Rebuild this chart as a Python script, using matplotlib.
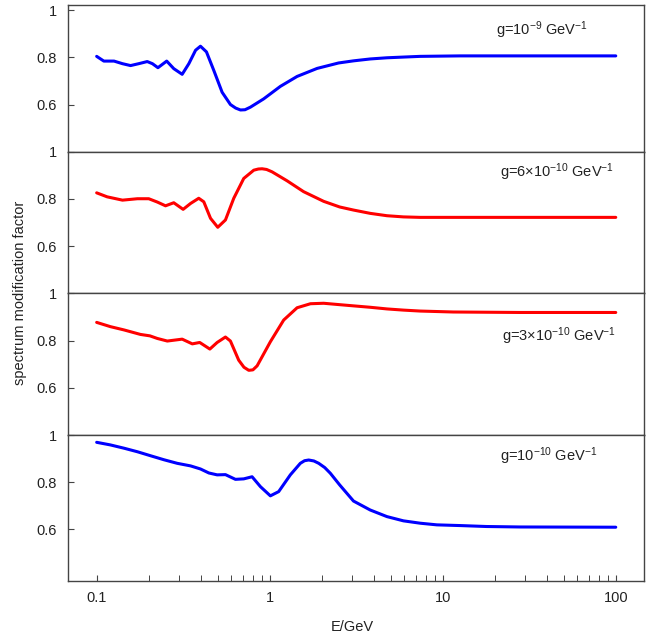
import matplotlib
matplotlib.use("Agg")
import matplotlib.pyplot as plt
from matplotlib.ticker import FixedLocator, NullFormatter

plt.rcParams['font.family'] = ['Liberation Sans', 'DejaVu Sans']
plt.rcParams['mathtext.default'] = 'regular'

#--------------------
# data (E in GeV, factor)
E1 = [0.1, 0.110, 0.126, 0.141, 0.157, 0.175, 0.196, 0.210, 0.226, 0.254, 0.279, 0.312,
      0.341, 0.373, 0.398, 0.431, 0.475, 0.531, 0.593, 0.636, 0.678, 0.72, 0.774, 0.923,
      1.153, 1.44, 1.88, 2.50, 3.05, 3.81, 4.76, 5.93, 7.41, 12.6, 28, 100]
F1 = [0.804, 0.784, 0.784, 0.773, 0.765, 0.773, 0.782, 0.773, 0.756, 0.784, 0.752, 0.728,
      0.773, 0.830, 0.847, 0.823, 0.745, 0.652, 0.600, 0.585, 0.577, 0.578, 0.589, 0.624,
      0.677, 0.719, 0.753, 0.776, 0.785, 0.793, 0.798, 0.801, 0.804, 0.806, 0.806, 0.806]

E2 = [0.1, 0.115, 0.141, 0.172, 0.200, 0.224, 0.250, 0.279, 0.316, 0.349, 0.389, 0.416,
      0.455, 0.501, 0.555, 0.620, 0.708, 0.809, 0.86, 0.904, 0.96, 1.032, 1.26, 1.57, 2.05,
      2.54, 3.05, 3.81, 4.76, 5.93, 7.41, 12.6, 28, 100]
F2 = [0.826, 0.809, 0.795, 0.801, 0.801, 0.787, 0.771, 0.784, 0.756, 0.781, 0.803, 0.788,
      0.718, 0.680, 0.711, 0.803, 0.887, 0.922, 0.927, 0.928, 0.925, 0.915, 0.877, 0.831,
      0.790, 0.766, 0.753, 0.739, 0.729, 0.724, 0.722, 0.722, 0.722, 0.722]

E3 = [0.1, 0.120, 0.144, 0.179, 0.203, 0.224, 0.256, 0.312, 0.357, 0.394, 0.451, 0.497,
      0.555, 0.593, 0.662, 0.71, 0.757, 0.80, 0.846, 1.009, 1.205, 1.44, 1.72, 2.05, 2.54,
      3.05, 3.81, 4.76, 5.93, 7.41, 11.5, 28, 100]
F3 = [0.877, 0.859, 0.845, 0.826, 0.820, 0.809, 0.798, 0.806, 0.786, 0.792, 0.764, 0.792,
      0.815, 0.798, 0.717, 0.687, 0.674, 0.676, 0.693, 0.795, 0.887, 0.939, 0.956, 0.958,
      0.952, 0.947, 0.941, 0.934, 0.929, 0.925, 0.921, 0.919, 0.919]

E4 = [0.1, 0.120, 0.144, 0.172, 0.205, 0.245, 0.292, 0.349, 0.398, 0.445, 0.497, 0.555,
      0.634, 0.708, 0.791, 0.884, 1.009, 1.127, 1.316, 1.503, 1.59, 1.68, 1.80, 1.92, 2.08,
      2.24, 2.54, 3.05, 3.81, 4.76, 5.93, 7.41, 9.25, 12.6, 17.9, 28, 100]
F4 = [0.969, 0.958, 0.944, 0.929, 0.912, 0.895, 0.880, 0.869, 0.856, 0.839, 0.831, 0.832,
      0.812, 0.814, 0.823, 0.781, 0.742, 0.760, 0.831, 0.880, 0.891, 0.894, 0.890, 0.880,
      0.862, 0.838, 0.788, 0.720, 0.682, 0.654, 0.636, 0.626, 0.619, 0.616, 0.612, 0.610,
      0.609]

labels = [r'g=10$^{-9}$ GeV$^{-1}$', r'g=6×10$^{-10}$ GeV$^{-1}$',
          r'g=3×10$^{-10}$ GeV$^{-1}$', r'g=10$^{-10}$ GeV$^{-1}$']
colors = ['#0000ff', '#ff0000', '#ff0000', '#0000ff']
ylims = [(0.4, 1.021), (0.4, 1.0), (0.4, 1.0), (0.381, 1.0)]
label_pos = [(0.743, 0.83), (0.75, 0.859), (0.753, 0.694), (0.75, 0.858)]
#--------------------

fig = plt.figure(figsize=(6.54, 6.39), dpi=100)
gs = fig.add_gridspec(4, 1, height_ratios=[146.7, 141.6, 141.7, 146], hspace=0,
                      left=0.104, right=0.985, top=0.992, bottom=0.0908)
axes = []
for i in range(4):
    ax = fig.add_subplot(gs[i], sharex=axes[0] if axes else None)
    axes.append(ax)

data = [(E1, F1), (E2, F2), (E3, F3), (E4, F4)]
minor = [m * 10.0 ** d for d in range(-1, 2) for m in range(2, 10)]

for i, ax in enumerate(axes):
    E, F = data[i]
    ax.plot(E, F, color=colors[i], lw=2.2, solid_joinstyle='round', solid_capstyle='round')
    ax.set_xscale('log')
    ax.set_xlim(0.0683, 146)
    ax.set_ylim(*ylims[i])
    ax.set_yticks([0.6, 0.8, 1.0])
    ax.set_yticklabels(['0.6', '0.8', '1'])
    ax.tick_params(axis='y', direction='in', length=4.5, width=0.8, color='#444444',
                   labelsize=10.5, labelcolor='#222222', right=False, pad=8)
    ax.tick_params(axis='x', which='both', direction='in', top=False, color='#444444',
                   labelsize=10.5, labelcolor='#222222', pad=7)
    ax.tick_params(axis='x', which='major', length=4.5, width=0.8)
    ax.tick_params(axis='x', which='minor', length=4, width=0.7)
    for s in ax.spines.values():
        s.set_color('#444444')
        s.set_linewidth(1.0)
    ax.text(label_pos[i][0], label_pos[i][1], labels[i], transform=ax.transAxes,
            ha='left', va='center', fontsize=10.5, color='#222222')
    if i < 3:
        ax.tick_params(axis='x', which='both', bottom=False, labelbottom=False)

axes[3].xaxis.set_major_locator(FixedLocator([0.1, 1, 10, 100]))
axes[3].set_xticklabels(['0.1', '1', '10', '100'])
axes[3].xaxis.set_minor_locator(FixedLocator(minor))
axes[3].xaxis.set_minor_formatter(NullFormatter())

fig.text(0.538, 0.019, 'E/GeV', ha='center', va='center', fontsize=10.5, color='#222222')
fig.text(0.031, 0.541, 'spectrum modification factor', rotation=90, ha='center',
         va='center', fontsize=10.5, color='#222222')

fig.savefig('out.png', dpi=100)
